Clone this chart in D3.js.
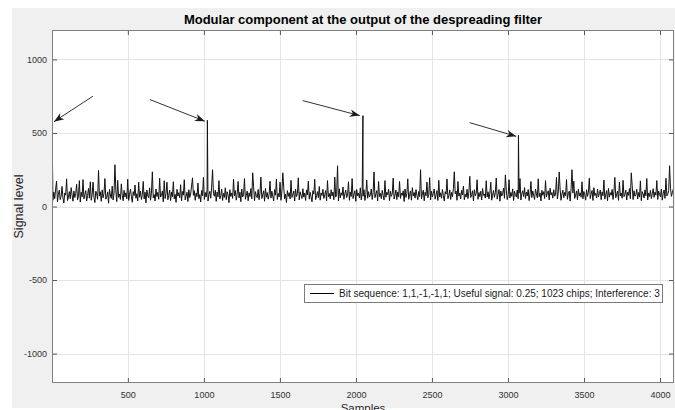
<!DOCTYPE html>
<html><head><meta charset="utf-8">
<script src="https://cdn.jsdelivr.net/npm/d3@7"></script>
<style>
html,body{margin:0;padding:0;background:#fff;}
svg{display:block;font-family:"Liberation Sans",Arial,sans-serif;}
</style></head>
<body>
<script>
// ---- data ----
const titleText = "Modular component at the output of the despreading filter";
const xLabel = "Samples";
const yLabel = "Signal level";
const legendText = "Bit sequence: 1,1,-1,-1,1; Useful signal: 0.25; 1023 chips; Interference: 3";
const xTicks = [500, 1000, 1500, 2000, 2500, 3000, 3500, 4000];
const yTicks = [-1000, -500, 0, 500, 1000];
const xDomain = [1, 4092];
const yDomain = [-1200, 1200];
// correlation peaks (sample index, level)
const peakSamples = [1, 1023, 2046, 3069];
const peakValues = [600, 586, 618, 484];
// noise floor, read every 6th sample starting at sample 1
const noiseStep = 6;
const noiseValues = [
75,42,98,54,120,172,32,83,111,47,70,136,58,24,92,77,188,40,64,101,
53,128,79,36,106,61,89,151,45,72,176,30,97,66,183,51,81,108,38,74,
123,57,168,42,79,166,63,27,104,86,49,245,71,100,35,113,59,88,190,50,
67,99,22,116,78,55,138,44,91,284,107,33,178,62,84,48,154,76,39,110,
65,93,52,185,41,82,117,69,29,101,74,146,56,87,38,165,63,105,47,79,
170,51,98,25,112,72,60,127,43,90,236,58,81,37,119,68,96,49,192,64,
75,106,32,175,54,88,165,46,77,111,40,99,66,168,52,83,28,117,71,94,
59,148,38,102,77,182,45,69,97,34,114,61,85,139,195,76,108,42,92,67,
160,53,81,31,109,73,198,48,95,64,116,37,79,103,56,132,250,87,70,111,
35,98,66,176,51,74,118,41,89,62,127,47,100,78,26,114,68,92,55,185,
72,109,43,84,170,58,97,33,119,65,80,190,49,76,105,39,93,67,122,52,
229,135,40,101,73,60,116,46,90,200,54,78,107,36,123,63,95,50,82,172,
57,104,71,38,115,77,186,48,89,65,165,42,98,229,131,53,83,27,108,69,
94,51,178,62,79,106,37,118,68,87,195,45,100,76,54,121,64,91,41,113,
78,172,50,96,67,32,107,84,185,47,73,101,60,136,43,92,75,117,55,81,
108,39,176,66,88,52,114,71,98,46,200,64,80,277,37,120,59,93,76,133,
49,86,111,61,77,168,42,99,68,190,54,83,107,35,116,72,90,58,127,45,
95,70,114,41,82,180,56,101,65,79,119,48,94,235,60,85,108,38,170,67,
89,53,110,74,44,176,63,97,80,117,40,104,69,86,193,51,78,112,47,99,
66,170,55,91,76,107,34,119,62,88,188,49,81,106,43,128,71,95,57,115,
77,46,102,68,250,52,85,111,39,97,73,166,60,82,196,45,104,66,90,119,
50,79,108,41,178,64,93,56,116,75,37,101,84,187,53,72,113,48,96,67,
121,236,87,105,42,170,70,92,51,110,78,139,46,83,64,117,54,98,205,61,
80,107,38,114,73,89,182,49,95,67,104,44,122,76,85,57,175,65,100,52,
91,165,43,77,109,62,94,194,50,82,115,36,105,71,88,125,56,215,111,47,
74,182,58,96,69,120,41,103,81,65,112,53,90,190,44,86,107,68,129,55,
98,72,115,40,84,170,61,106,75,48,119,87,59,188,67,92,38,110,77,101,
54,176,66,89,107,45,124,78,95,57,114,70,83,198,51,99,235,118,42,85,
111,60,96,74,183,49,88,104,37,121,250,91,172,55,79,106,46,117,72,93,
63,168,52,102,80,43,114,69,97,192,54,86,109,41,128,75,90,58,119,66,
87,112,46,99,73,180,50,81,108,39,123,64,94,77,116,48,103,198,60,84,
105,42,166,71,92,56,178,67,83,111,44,98,76,122,53,229,142,47,107,70,
79,117,51,95,64,174,40,101,86,58,113,73,190,45,92,68,109,54,87,121,
62,98,77,176,48,105,81,66,119,43,90,112,55,192,72,84,107,277,124,69,
93,118
];
// annotation arrows in data coordinates: tail -> head
const arrowTailX = [270, 645, 1650, 2748];
const arrowTailY = [750, 727, 720, 570];
const arrowHeadX = [14, 1006, 2025, 3054];
const arrowHeadY = [577, 580, 618, 477];

// ---- layout ----
const W = 675, H = 410;
const M = {left: 52, right: 674, top: 30, bottom: 383};

const svg = d3.select("body").append("svg").attr("width", W).attr("height", H);
svg.append("rect").attr("x", 12).attr("y", 8).attr("width", W - 12).attr("height", 400).attr("fill", "#f0f0f0");
svg.append("rect").attr("x", M.left).attr("y", M.top).attr("width", M.right - M.left).attr("height", M.bottom - M.top).attr("fill", "#fff");

const x = d3.scaleLinear().domain(xDomain).range([M.left, M.right]);
const y = d3.scaleLinear().domain(yDomain).range([M.bottom, M.top]);

// grid
const grid = svg.append("g").attr("stroke", "#e4e4e4").attr("stroke-width", 1);
xTicks.forEach(t => grid.append("line").attr("x1", Math.round(x(t)) + 0.5).attr("x2", Math.round(x(t)) + 0.5).attr("y1", M.top).attr("y2", M.bottom));
yTicks.forEach(t => grid.append("line").attr("y1", Math.round(y(t)) + 0.5).attr("y2", Math.round(y(t)) + 0.5).attr("x1", M.left).attr("x2", M.right));

// series
const pts = noiseValues.map((v, i) => ({s: 1 + i * noiseStep, v}));
peakSamples.forEach((s, i) => {
  const ex = pts.find(p => p.s === s);
  if (ex) ex.v = peakValues[i]; else pts.push({s, v: peakValues[i]});
});
pts.sort((a, b) => a.s - b.s);

svg.append("clipPath").attr("id", "clip").append("rect")
  .attr("x", M.left).attr("y", M.top).attr("width", M.right - M.left).attr("height", M.bottom - M.top);
svg.append("path").datum(pts)
  .attr("clip-path", "url(#clip)")
  .attr("fill", "none").attr("stroke", "#111").attr("stroke-width", 1)
  .attr("stroke-linejoin", "miter").attr("stroke-miterlimit", 1.5)
  .attr("d", d3.line().x(d => x(d.s)).y(d => y(d.v)));

// axes (box with inward ticks on all sides)
const axColor = "#808080";
const tickLen = 5;
const fmt = d => String(d);
const axG = svg.append("g");
function styleAxis(g) {
  g.select(".domain").remove();
  g.selectAll(".tick line").attr("stroke", "#555").attr("stroke-width", 1);
  g.selectAll(".tick text").attr("fill", "#333").attr("font-size", 9).attr("font-family", "Liberation Sans, Arial, sans-serif");
}
axG.append("g").attr("transform", `translate(0,${M.bottom})`)
  .call(d3.axisBottom(x).tickValues(xTicks).tickSize(-tickLen).tickPadding(9).tickFormat(fmt))
  .call(styleAxis);
axG.append("g").attr("transform", `translate(0,${M.top})`)
  .call(d3.axisTop(x).tickValues(xTicks).tickSize(-tickLen).tickFormat(""))
  .call(styleAxis);
axG.append("g").attr("transform", `translate(${M.left},0)`)
  .call(d3.axisLeft(y).tickValues(yTicks).tickSize(-tickLen).tickPadding(5).tickFormat(fmt))
  .call(styleAxis);
axG.append("g").attr("transform", `translate(${M.right},0)`)
  .call(d3.axisRight(y).tickValues(yTicks).tickSize(-tickLen).tickFormat(""))
  .call(styleAxis);
svg.append("rect").attr("x", M.left + 0.5).attr("y", M.top + 0.5)
  .attr("width", M.right - M.left - 1).attr("height", M.bottom - M.top - 1)
  .attr("fill", "none").attr("stroke", axColor).attr("stroke-width", 1);

// arrows
const defs = svg.append("defs");
defs.append("marker").attr("id", "ah").attr("viewBox", "-10 -5 11 10")
  .attr("refX", 0).attr("refY", 0).attr("markerWidth", 11).attr("markerHeight", 10)
  .attr("markerUnits", "userSpaceOnUse").attr("orient", "auto")
  .append("path").attr("d", "M0,0 L-10,-3.8 L-7,0 L-10,3.8 Z").attr("fill", "#1a1a1a");
arrowTailX.forEach((_, i) => {
  svg.append("line")
    .attr("x1", x(arrowTailX[i])).attr("y1", y(arrowTailY[i]))
    .attr("x2", x(arrowHeadX[i])).attr("y2", y(arrowHeadY[i]))
    .attr("stroke", "#333").attr("stroke-width", 1)
    .attr("marker-end", "url(#ah)");
});

// legend
const lg = svg.append("g");
lg.append("rect").attr("x", 304.5).attr("y", 284.5).attr("width", 358).attr("height", 18)
  .attr("fill", "#fff").attr("stroke", "#7a7a7a").attr("stroke-width", 1);
lg.append("line").attr("x1", 310).attr("x2", 334).attr("y1", 293.5).attr("y2", 293.5).attr("stroke", "#000").attr("stroke-width", 1);
lg.append("text").attr("x", 339).attr("y", 297).attr("font-size", 10).attr("fill", "#1a1a1a").text(legendText);

// title & labels
svg.append("text").attr("x", (M.left + M.right) / 2).attr("y", 24)
  .attr("text-anchor", "middle").attr("font-weight", "bold").attr("font-size", 13).attr("fill", "#000").text(titleText);
svg.append("text").attr("x", (M.left + M.right) / 2).attr("y", 412)
  .attr("text-anchor", "middle").attr("font-size", 11.5).attr("fill", "#262626").text(xLabel);
svg.append("text").attr("transform", `translate(23,${(M.top + M.bottom) / 2}) rotate(-90)`)
  .attr("text-anchor", "middle").attr("font-size", 12.5).attr("fill", "#262626").text(yLabel);
</script>
</body></html>
